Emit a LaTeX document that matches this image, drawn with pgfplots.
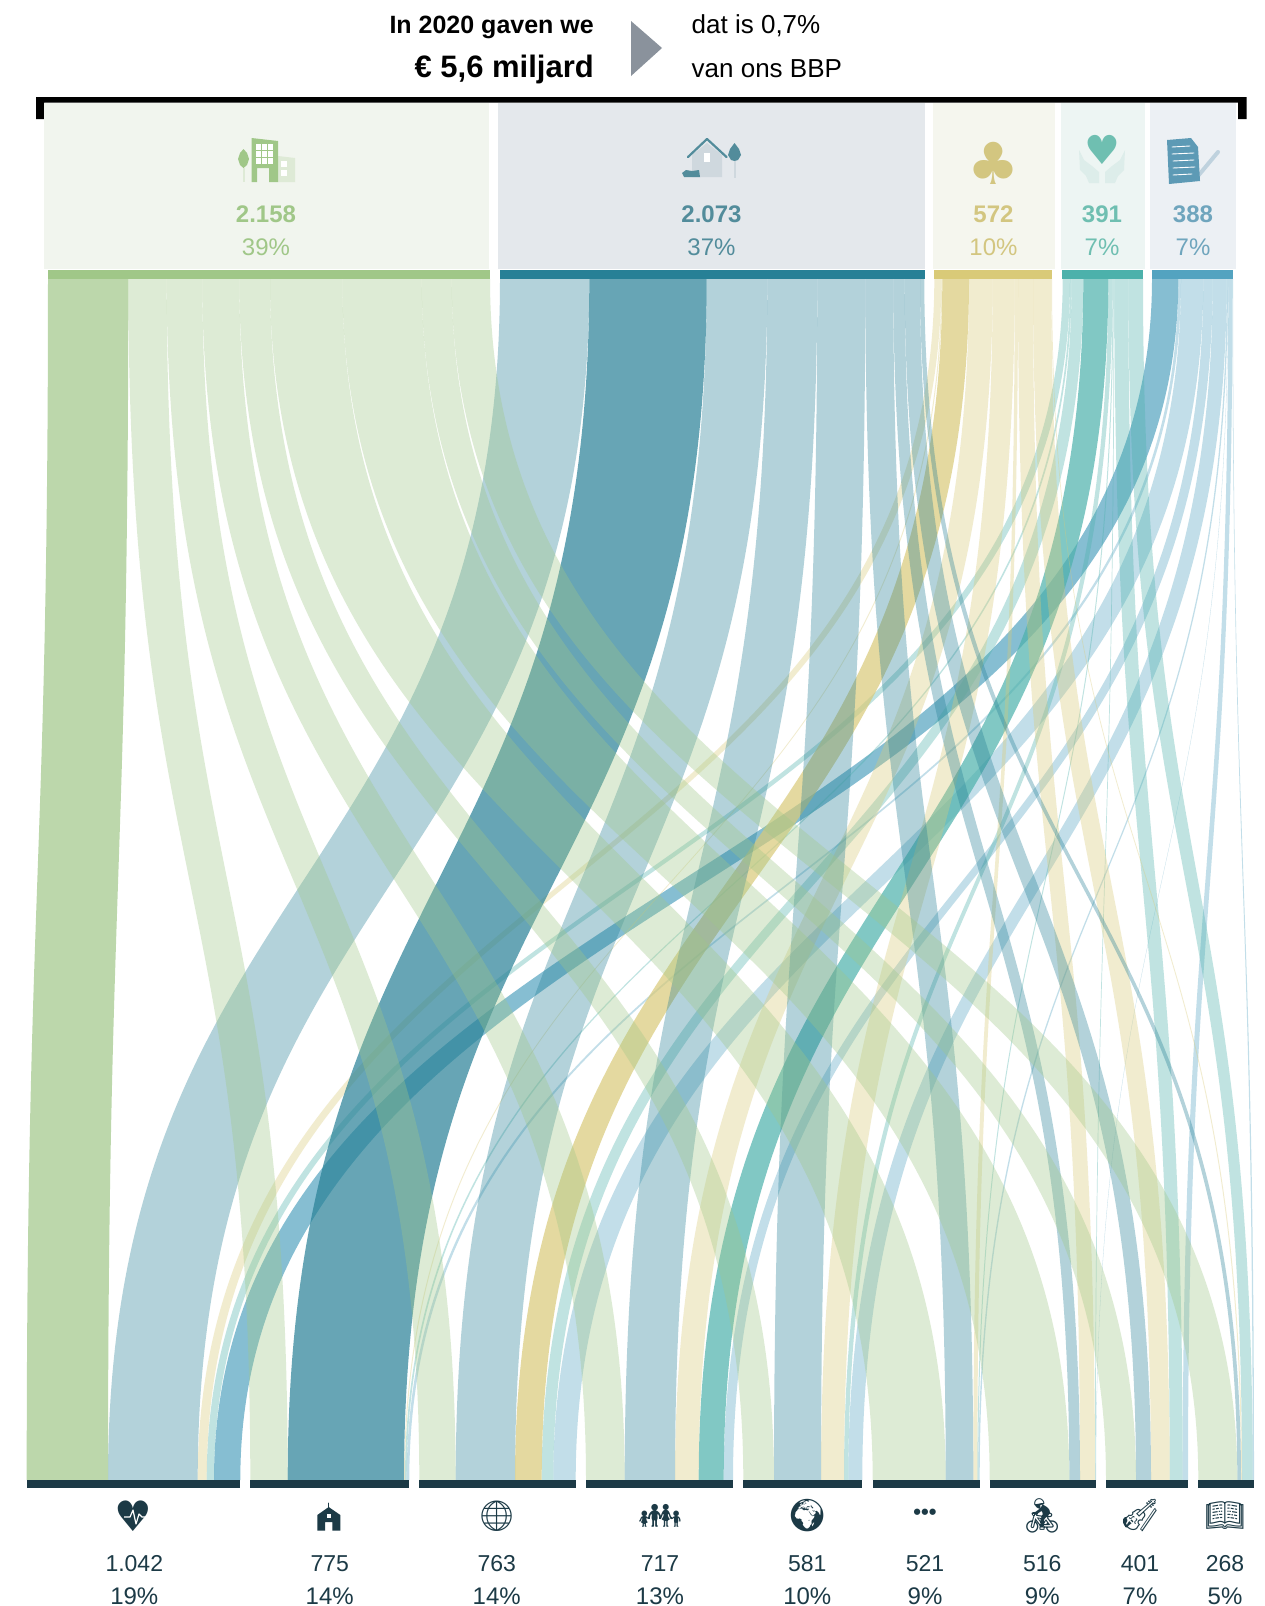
\documentclass[border=0pt]{standalone}
\usepackage{pgfplots}
\pgfplotsset{compat=1.18}
\usepackage{fontspec}
\setmainfont{Liberation Sans}
\newfontfamily\emoji{Noto Emoji}
\newfontfamily\dejavu{DejaVu Sans}
\makeatletter
\newcount\bandcnt
\def\band@point#1{\pgf@process{#1}\global\advance\bandcnt by1
  \expandafter\xdef\csname band@x\romannumeral\bandcnt\endcsname{\the\pgf@x}%
  \expandafter\xdef\csname band@y\romannumeral\bandcnt\endcsname{\the\pgf@y}}
\def\band@end{%
  \pgf@ya=\band@yi\relax\advance\pgf@ya by\band@yii\relax\divide\pgf@ya by2\relax
  \edef\band@ym{\the\pgf@ya}%
  \pgfpathmoveto{\pgfqpoint{\band@xi}{\band@yi}}%
  \pgfpathcurveto{\pgfqpoint{\band@xi}{\band@ym}}{\pgfqpoint{\band@xii}{\band@ym}}{\pgfqpoint{\band@xii}{\band@yii}}%
  \pgfpathlineto{\pgfqpoint{\band@xiii}{\band@yiii}}%
  \pgfpathcurveto{\pgfqpoint{\band@xiii}{\band@ym}}{\pgfqpoint{\band@xiv}{\band@ym}}{\pgfqpoint{\band@xiv}{\band@yiv}}%
  \pgfpathclose}
\def\pgfplothandlerband{%
  \def\pgf@plotstreamstart{%
    \global\bandcnt=0
    \global\let\pgf@plotstreamspecial=\pgfutil@gobble
    \global\let\pgf@plotstreampoint=\band@point
    \global\let\pgf@plotstreamjump=\pgfutil@gobble
    \global\let\pgf@plotstreamend=\band@end}}
\tikzset{band/.code={\let\tikz@plot@handler=\pgfplothandlerband}}
\makeatother
\definecolor{gr}{HTML}{A0C788}
\definecolor{bl}{HTML}{278096}
\definecolor{ye}{HTML}{D9CA78}
\definecolor{te}{HTML}{4CB1AB}
\definecolor{lb}{HTML}{53A3C0}
\definecolor{ink}{HTML}{1C3A46}
\definecolor{pg}{HTML}{F1F5EE}
\definecolor{pb}{HTML}{E4E8EC}
\definecolor{py}{HTML}{F5F6EE}
\definecolor{pt}{HTML}{EDF5F3}
\definecolor{pl}{HTML}{ECF0F4}
\definecolor{tb}{HTML}{528C9B}
\definecolor{ty}{HTML}{D3C680}
\definecolor{tt}{HTML}{6FBFB1}
\definecolor{tl}{HTML}{6FA5BD}
\definecolor{tri}{HTML}{8A929C}
\definecolor{ga}{HTML}{DEEAD6}
\definecolor{hb}{HTML}{CFD8DE}
\definecolor{hh}{HTML}{DDEDEA}
\definecolor{pn}{HTML}{BFD2DE}
\definecolor{dc}{HTML}{5D9AB5}
\pgfplotsset{
 L/.style={band,draw=none,fill=#1,fill opacity=.35},
 D/.style={band,draw=none,fill=#1,fill opacity=.7},
 R/.style={draw=none,fill=#1,sharp plot},
 S/.style={no marks,sharp plot,draw=#1,line cap=round,line join=round}}
\newcommand\fs[1]{\fontsize{#1}{#1}\selectfont}
\tikzset{T/.style={inner sep=0pt,anchor=base},Ic/.style={inner sep=0pt,anchor=center}}
\begin{document}
\begin{tikzpicture}
\begin{axis}[at={(0pt,0pt)},anchor=south west,width=1265pt,height=1606pt,scale only axis,
 xmin=0,xmax=1265,ymin=0,ymax=1606,y dir=reverse,hide axis,clip=false]
% full page extent
\addplot[R=white] coordinates {(0,0)(1265,0)(1265,1606)(0,1606)};
% bracket, panels, source bars
\addplot[R=black] coordinates {(36,97)(1246.5,97)(1246.5,119)(1238,119)(1238,102.7)(44,102.7)(44,119)(36,119)};
\addplot[R=pg] coordinates {(44,102.7)(488.7,102.7)(488.7,268.7)(44,268.7)};
\addplot[R=pb] coordinates {(498,102.7)(925,102.7)(925,268.7)(498,268.7)};
\addplot[R=py] coordinates {(933,102.7)(1054.5,102.7)(1054.5,268.7)(933,268.7)};
\addplot[R=pt] coordinates {(1061,102.7)(1144.6,102.7)(1144.6,268.7)(1061,268.7)};
\addplot[R=pl] coordinates {(1149.8,102.7)(1236,102.7)(1236,268.7)(1149.8,268.7)};
\addplot[R=gr] coordinates {(48,270)(489.6,270)(489.6,278.6)(48,278.6)};
\addplot[R=bl] coordinates {(500,270)(925,270)(925,278.6)(500,278.6)};
\addplot[R=ye] coordinates {(934,270)(1052,270)(1052,278.6)(934,278.6)};
\addplot[R=te] coordinates {(1062,270)(1143,270)(1143,278.6)(1062,278.6)};
\addplot[R=lb] coordinates {(1151.7,270)(1233,270)(1233,278.6)(1151.7,278.6)};
\addplot[R=tri] coordinates {(631,21)(662,48)(631,76)};
% light blue flows
\addplot[D=lb] coordinates {(1152,279)(214,1480)(240.3,1480)(1178.3,279)};
\addplot[L=lb] coordinates {(1178.3,279)(406.7,1480)(409.3,1480)(1181,279)};
\addplot[L=lb] coordinates {(1181,279)(553.3,1480)(575.7,1480)(1203.3,279)};
\addplot[L=lb] coordinates {(1203.3,279)(723.7,1480)(733,1480)(1212.7,279)};
\addplot[L=lb] coordinates {(1212.7,279)(848.3,1480)(862.3,1480)(1226.7,279)};
\addplot[L=lb] coordinates {(1226.7,279)(978.3,1480)(979.7,1480)(1228,279)};
\addplot[L=lb] coordinates {(1228,279)(1095.7,1480)(1096,1480)(1228.3,279)};
\addplot[L=lb] coordinates {(1228.3,279)(1182.7,1480)(1188,1480)(1232.5,279)};
\addplot[L=lb] coordinates {(1232.5,279)(1252.7,1480)(1254,1480)(1233,279)};
% teal flows
\addplot[L=te] coordinates {(1062.7,279)(206.7,1480)(214,1480)(1070,279)};
\addplot[L=te] coordinates {(1070,279)(405,1480)(406.7,1480)(1071.7,279)};
\addplot[L=te] coordinates {(1071.7,279)(541.7,1480)(553.3,1480)(1083.3,279)};
\addplot[D=te] coordinates {(1083.3,279)(698.7,1480)(723.7,1480)(1108.3,279)};
\addplot[L=te] coordinates {(1108.3,279)(844,1480)(848.3,1480)(1112.6,279)};
\addplot[L=te] coordinates {(1112.6,279)(977.3,1480)(978.3,1480)(1113.6,279)};
\addplot[L=te] coordinates {(1113.6,279)(1095,1480)(1095.7,1480)(1114.3,279)};
\addplot[L=te] coordinates {(1114.3,279)(1169.7,1480)(1182.7,1480)(1128.3,279)};
\addplot[L=te] coordinates {(1128.3,279)(1242,1480)(1252.7,1480)(1143,279)};
% yellow flows
\addplot[L=ye] coordinates {(934.3,279)(197.7,1480)(206.7,1480)(941.3,279)};
\addplot[L=ye] coordinates {(941.3,279)(404,1480)(405,1480)(942.3,279)};
\addplot[D=ye] coordinates {(942.3,279)(515,1480)(541.7,1480)(969,279)};
\addplot[L=ye] coordinates {(969,279)(675,1480)(698.7,1480)(992.7,279)};
\addplot[L=ye] coordinates {(992.7,279)(821,1480)(844,1480)(1014.7,279)};
\addplot[L=ye] coordinates {(1014.7,279)(973.3,1480)(977.3,1480)(1018,279)};
\addplot[L=ye] coordinates {(1018,279)(1080,1480)(1095,1480)(1033,279)};
\addplot[L=ye] coordinates {(1033,279)(1151,1480)(1169.7,1480)(1051.3,279)};
\addplot[L=ye] coordinates {(1051.3,279)(1241,1480)(1242,1480)(1052,279)};
% blue flows
\addplot[L=bl] coordinates {(500,279)(108,1480)(197.7,1480)(589.3,279)};
\addplot[D=bl] coordinates {(589.3,279)(287.7,1480)(404,1480)(706.7,279)};
\addplot[L=bl] coordinates {(706.7,279)(455.7,1480)(515,1480)(767.3,279)};
\addplot[L=bl] coordinates {(767.3,279)(624.7,1480)(675,1480)(817.3,279)};
\addplot[L=bl] coordinates {(817.3,279)(774,1480)(821,1480)(865.3,279)};
\addplot[L=bl] coordinates {(865.3,279)(945.7,1480)(973.3,1480)(893.3,279)};
\addplot[L=bl] coordinates {(893.3,279)(1069.3,1480)(1080,1480)(904.7,279)};
\addplot[L=bl] coordinates {(904.7,279)(1136,1480)(1151,1480)(920,279)};
\addplot[L=bl] coordinates {(920,279)(1237.3,1480)(1241,1480)(924.3,279)};
% green flows
\addplot[D=gr] coordinates {(48,279)(26.7,1480)(108,1480)(128.3,279)};
\addplot[L=gr] coordinates {(128.3,279)(250.3,1480)(287.7,1480)(166.7,279)};
\addplot[L=gr] coordinates {(166.7,279)(419.3,1480)(455.7,1480)(202.3,279)};
\addplot[L=gr] coordinates {(202.3,279)(586,1480)(624.7,1480)(239.3,279)};
\addplot[L=gr] coordinates {(239.3,279)(743.3,1480)(774,1480)(270,279)};
\addplot[L=gr] coordinates {(270,279)(872.7,1480)(945.7,1480)(342.3,279)};
\addplot[L=gr] coordinates {(342.3,279)(989.7,1480)(1069.3,1480)(421.7,279)};
\addplot[L=gr] coordinates {(421.7,279)(1106,1480)(1136,1480)(451.7,279)};
\addplot[L=gr] coordinates {(451.7,279)(1198.3,1480)(1237.3,1480)(490,279)};
% target bars
\addplot[R=ink] coordinates {(26.7,1480)(240.3,1480)(240.3,1488)(26.7,1488)};
\addplot[R=ink] coordinates {(250.3,1480)(409.3,1480)(409.3,1488)(250.3,1488)};
\addplot[R=ink] coordinates {(419.3,1480)(575.7,1480)(575.7,1488)(419.3,1488)};
\addplot[R=ink] coordinates {(586,1480)(733,1480)(733,1488)(586,1488)};
\addplot[R=ink] coordinates {(743.3,1480)(862.3,1480)(862.3,1488)(743.3,1488)};
\addplot[R=ink] coordinates {(872.7,1480)(979.7,1480)(979.7,1488)(872.7,1488)};
\addplot[R=ink] coordinates {(989.7,1480)(1095.7,1480)(1095.7,1488)(989.7,1488)};
\addplot[R=ink] coordinates {(1106,1480)(1188,1480)(1188,1488)(1106,1488)};
\addplot[R=ink] coordinates {(1198.3,1480)(1254,1480)(1254,1488)(1198.3,1488)};
% icon: building
\addplot[R=ga] coordinates {(278,156)(295,158)(295,182)(278,182)};
\addplot[R=white] coordinates {(281,161)(287,161)(287,167)(281,167)};
\addplot[R=white] coordinates {(281,170)(287,170)(287,176)(281,176)};
\addplot[R=gr] coordinates {(251.5,138)(278,141)(278,182)(269,182)(269,168)(257,168)(257,182)(251.5,182)};
\addplot[R=white] coordinates {(256,144)(273,144)(273,164)(256,164)};
\addplot[R=gr] coordinates {(261,144)(262,144)(262,164)(261,164)};
\addplot[R=gr] coordinates {(267,144)(268,144)(268,164)(267,164)};
\addplot[R=gr] coordinates {(256,150)(273,150)(273,151)(256,151)};
\addplot[R=gr] coordinates {(256,157)(273,157)(273,158)(256,158)};
\addplot[R=gr] coordinates {(243.5,149)(247,153)(249,159)(247,165)(243.5,168)(240,165)(238,159)(240,153)};
\addplot[R=ga] coordinates {(243,168)(244.5,168)(244.5,182)(243,182)};
% icon: house
\addplot[R=hb] coordinates {(692,155)(707,143)(722,155)(722,177)(692,177)};
\addplot[R=white] coordinates {(704,153)(710,153)(710,162)(704,162)};
\addplot[S=tb,line width=2.2pt] coordinates {(688,157)(707,139)(726.5,157)};
\addplot[R=tb] coordinates {(734.5,143)(739,149)(741,155)(738,160)(734.5,161)(731,160)(728,155)(730,149)};
\addplot[R=hb] coordinates {(734,161)(736,161)(736,178)(734,178)};
\addplot[R=tb] coordinates {(682,173)(686,170)(692,171)(699,170)(700,177)(684,177)};
% icon: hands
\addplot[R=hh] coordinates {(1079,150)(1084,160)(1092,166)(1099,172)(1099,183)(1089,183)(1086,176)(1080,170)};
\addplot[R=hh] coordinates {(1125,150)(1120,160)(1112,166)(1105,172)(1105,183)(1115,183)(1118,176)(1124,170)};
% icon: document
\addplot[S=pn,line width=4pt] coordinates {(1198,176)(1218,152)};
\addplot[R=dc] coordinates {(1167,140)(1191,138)(1198,147)(1200,181)(1169,184)};
\addplot[S=white,line width=.9pt] coordinates {(1172,147)(1190,146)};
\addplot[S=white,line width=.9pt] coordinates {(1172,154)(1194,153)};
\addplot[S=white,line width=.9pt] coordinates {(1173,161)(1194,160)};
\addplot[S=white,line width=.9pt] coordinates {(1173,168)(1195,167)};
\addplot[S=white,line width=.9pt] coordinates {(1173,175)(1192,174)};
% icon: church
\addplot[S=ink,line width=1pt] coordinates {(328.7,1503)(328.7,1510)};
\addplot[R=ink] coordinates {(328.7,1507)(340.3,1515)(340.3,1530.7)(332.3,1530.7)(332.3,1522)(325,1522)(325,1530.7)(317.3,1530.7)(317.3,1515)};
\addplot[R=white] coordinates {(327,1514)(330.5,1514)(330.5,1518)(327,1518)};
% icon: heart pulse is drawn after the heart, below
% header
\node[T,anchor=base east] at (axis cs:594,33.5) {\fs{25}\bfseries In 2020 gaven we};
\node[T,anchor=base east] at (axis cs:594,77) {\fs{31}\bfseries € 5,6 miljard};
\node[T,anchor=base west] at (axis cs:691.5,33.5) {\fs{26}dat is 0,7\%};
\node[T,anchor=base west] at (axis cs:691.5,77) {\fs{26}van ons BBP};
% source labels
\node[T,text=gr] at (axis cs:266,222.6) {\fs{24}\bfseries 2.158};
\node[T,text=gr] at (axis cs:266,255.3) {\fs{24}39\%};
\node[T,text=tb] at (axis cs:711.5,222.6) {\fs{24}\bfseries 2.073};
\node[T,text=tb] at (axis cs:711.5,255.3) {\fs{24}37\%};
\node[T,text=ty] at (axis cs:993.5,222.6) {\fs{24}\bfseries 572};
\node[T,text=ty] at (axis cs:993.5,255.3) {\fs{24}10\%};
\node[T,text=tt] at (axis cs:1102,222.6) {\fs{24}\bfseries 391};
\node[T,text=tt] at (axis cs:1102,255.3) {\fs{24}7\%};
\node[T,text=tl] at (axis cs:1193,222.6) {\fs{24}\bfseries 388};
\node[T,text=tl] at (axis cs:1193,255.3) {\fs{24}7\%};
\node[Ic,text=ty] at (axis cs:993.5,163) {\fs{58}\dejavu ♣};
\node[Ic,text=tt] at (axis cs:1102,150) {\fs{40}\dejavu ♥};
% target labels
\node[T,text=ink] at (axis cs:134.3,1571) {\fs{23}1.042};
\node[T,text=ink] at (axis cs:134.3,1604) {\fs{24}19\%};
\node[T,text=ink] at (axis cs:329.7,1571) {\fs{23}775};
\node[T,text=ink] at (axis cs:329.7,1604) {\fs{24}14\%};
\node[T,text=ink] at (axis cs:496.7,1571) {\fs{23}763};
\node[T,text=ink] at (axis cs:496.7,1604) {\fs{24}14\%};
\node[T,text=ink] at (axis cs:660,1571) {\fs{23}717};
\node[T,text=ink] at (axis cs:660,1604) {\fs{24}13\%};
\node[T,text=ink] at (axis cs:807.3,1571) {\fs{23}581};
\node[T,text=ink] at (axis cs:807.3,1604) {\fs{24}10\%};
\node[T,text=ink] at (axis cs:925,1571) {\fs{23}521};
\node[T,text=ink] at (axis cs:925,1604) {\fs{24}9\%};
\node[T,text=ink] at (axis cs:1042.3,1571) {\fs{23}516};
\node[T,text=ink] at (axis cs:1042.3,1604) {\fs{24}9\%};
\node[T,text=ink] at (axis cs:1140,1571) {\fs{23}401};
\node[T,text=ink] at (axis cs:1140,1604) {\fs{24}7\%};
\node[T,text=ink] at (axis cs:1225,1571) {\fs{23}268};
\node[T,text=ink] at (axis cs:1225,1604) {\fs{24}5\%};
\node[Ic,text=ink] at (axis cs:133,1516) {\fs{42}\dejavu ♥};
\draw[white,line width=1.2pt,line join=round] (axis cs:124,1517) -- (axis cs:130,1517) -- (axis cs:133,1510) -- (axis cs:136,1524) -- (axis cs:139,1514) -- (axis cs:142,1517) -- (axis cs:146,1517);
\node[Ic,text=ink] at (axis cs:496.7,1516) {\fs{30}\emoji 🌐};
\node[Ic,text=ink] at (axis cs:660,1516) {\fs{34}\emoji 👪};
\node[Ic,text=ink] at (axis cs:807.3,1516) {\fs{32}\emoji 🌍};
\node[Ic,text=ink] at (axis cs:925,1514) {\fs{22}\bfseries •••};
\node[Ic,text=ink] at (axis cs:1042.3,1516) {\fs{34}\emoji 🚴};
\node[Ic,text=ink] at (axis cs:1140,1516) {\fs{32}\emoji 🎻};
\node[Ic,text=ink] at (axis cs:1225,1516) {\fs{32}\emoji 📖};
\end{axis}
\end{tikzpicture}
\end{document}
